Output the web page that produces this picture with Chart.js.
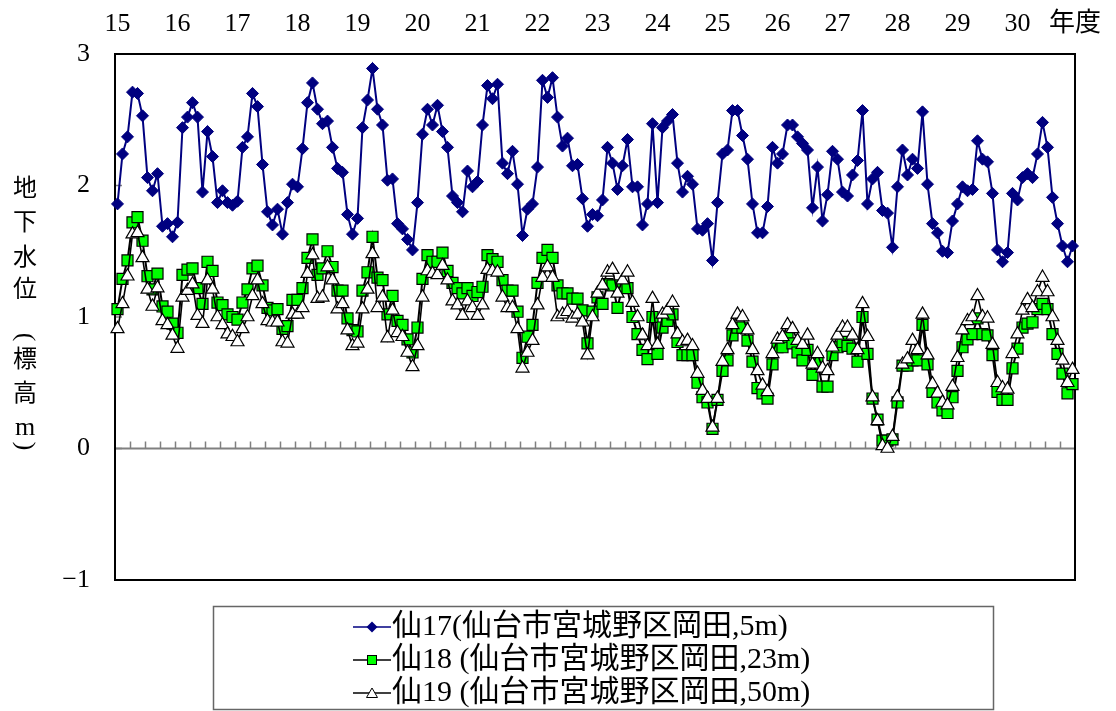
<!DOCTYPE html>
<html><head><meta charset="utf-8">
<script src="https://cdn.jsdelivr.net/npm/chart.js"></script>
<style>html,body{margin:0;padding:0;background:#fff;}#wrap{width:1116px;height:711px;}</style>
</head><body><div id="wrap"><canvas id="c" width="1116" height="711"></canvas></div>
<script>
// Fiscal years (Heisei) on the top axis, monthly data Apr H15 .. Mar H31
const yearLabels = ['15','16','17','18','19','20','21','22','23','24','25','26','27','28','29','30'];
const yearUnit = '年度';
const yTicks = [-1, 0, 1, 2, 3];
const seriesNames = ['仙17(仙台市宮城野区岡田,5m)', '仙18 (仙台市宮城野区岡田,23m)', '仙19 (仙台市宮城野区岡田,50m)'];
const yTitle = ['地','下','水','位','(','標','高','m',')'];

const sen17 = [
 1.86,2.24,2.37,2.71,2.70,2.53,2.06,1.96,2.09,1.69,1.71,1.61,
 1.72,2.44,2.52,2.63,2.52,1.95,2.41,2.22,1.87,1.96,1.87,1.85,
 1.88,2.29,2.37,2.70,2.60,2.16,1.80,1.70,1.82,1.63,1.87,2.01,
 1.99,2.28,2.63,2.78,2.58,2.47,2.49,2.29,2.13,2.10,1.78,1.63,
 1.75,2.44,2.65,2.89,2.58,2.46,2.04,2.05,1.71,1.67,1.59,1.51,
 1.87,2.39,2.58,2.46,2.61,2.41,2.29,1.92,1.87,1.80,2.11,1.99,
 2.03,2.46,2.76,2.66,2.77,2.17,2.09,2.26,2.01,1.62,1.82,1.86,
 2.14,2.80,2.67,2.82,2.52,2.30,2.36,2.15,2.16,1.90,1.69,1.78,
 1.77,1.89,2.29,2.17,1.97,2.15,2.35,1.99,1.99,1.70,1.86,2.47,
 1.87,2.44,2.49,2.54,2.17,1.95,2.07,2.01,1.67,1.66,1.71,1.43,
 1.87,2.24,2.27,2.57,2.57,2.38,2.20,1.86,1.64,1.64,1.84,2.29,
 2.17,2.24,2.46,2.46,2.37,2.32,2.27,1.83,2.14,1.73,1.93,2.26,
 2.20,1.95,1.92,2.08,2.19,2.57,1.86,2.05,2.10,1.81,1.79,1.53,
 1.99,2.27,2.08,2.20,2.13,2.56,2.01,1.71,1.64,1.50,1.49,1.73,
 1.86,1.99,1.96,1.97,2.34,2.20,2.18,1.94,1.51,1.42,1.49,1.94,
 1.89,2.06,2.09,2.06,2.24,2.48,2.29,1.91,1.71,1.54,1.42,1.54
];
const sen18 = [
 1.06,1.29,1.43,1.72,1.76,1.58,1.31,1.21,1.33,1.08,1.04,0.95,
 0.88,1.32,1.36,1.37,1.22,1.10,1.42,1.35,1.11,1.09,1.02,1.00,
 0.98,1.11,1.21,1.37,1.39,1.24,1.07,1.05,1.06,0.91,0.93,1.13,
 1.13,1.22,1.45,1.59,1.32,1.37,1.50,1.38,1.20,1.20,0.99,0.90,
 0.89,1.20,1.34,1.61,1.30,1.28,1.02,1.16,0.97,0.94,0.83,0.73,
 0.92,1.29,1.47,1.42,1.42,1.49,1.35,1.26,1.22,1.18,1.22,1.16,
 1.19,1.23,1.47,1.44,1.42,1.28,1.20,1.20,1.04,0.69,0.85,0.94,
 1.26,1.45,1.51,1.45,1.24,1.18,1.18,1.14,1.14,1.05,0.80,1.04,
 1.15,1.10,1.25,1.24,1.07,1.23,1.22,1.00,0.87,0.75,0.68,1.00,
 0.72,0.92,0.97,1.02,0.81,0.71,0.71,0.71,0.50,0.39,0.35,0.15,
 0.37,0.59,0.67,0.86,0.92,0.92,0.82,0.66,0.46,0.42,0.38,0.64,
 0.77,0.77,0.85,0.80,0.73,0.67,0.75,0.56,0.66,0.47,0.47,0.71,
 0.77,0.81,0.78,0.76,0.66,1.00,0.72,0.38,0.22,0.06,0.06,0.07,
 0.35,0.63,0.63,0.67,0.67,0.94,0.64,0.43,0.35,0.29,0.27,0.39,
 0.59,0.77,0.83,0.87,0.99,0.87,0.86,0.71,0.43,0.37,0.37,0.61,
 0.76,0.92,0.95,0.96,1.06,1.10,1.06,0.87,0.72,0.57,0.42,0.49
];
const sen19 = [
 0.91,1.10,1.31,1.63,1.64,1.45,1.21,1.08,1.22,0.97,0.94,0.86,
 0.76,1.15,1.20,1.25,1.01,0.95,1.28,1.21,1.00,0.94,0.87,0.85,
 0.81,0.91,1.00,1.16,1.28,1.10,0.97,0.96,0.96,0.81,0.80,1.02,
 1.02,1.07,1.33,1.47,1.14,1.15,1.38,1.28,1.06,1.10,0.90,0.78,
 0.80,1.06,1.21,1.48,1.07,1.15,0.84,1.05,0.88,0.85,0.73,0.62,
 0.78,1.15,1.35,1.33,1.32,1.39,1.28,1.12,1.09,1.01,1.12,1.07,
 1.01,1.09,1.36,1.35,1.34,1.15,1.07,1.07,0.91,0.61,0.73,0.82,
 1.09,1.30,1.38,1.30,1.00,1.02,1.04,0.99,1.02,0.96,0.71,1.00,
 1.18,1.24,1.34,1.36,1.18,1.28,1.34,1.11,1.00,0.86,0.78,1.14,
 0.79,1.02,1.05,1.11,0.87,0.81,0.82,0.78,0.57,0.44,0.38,0.16,
 0.38,0.66,0.75,0.94,1.02,1.00,0.90,0.75,0.59,0.48,0.43,0.72,
 0.83,0.85,0.94,0.91,0.82,0.79,0.86,0.64,0.72,0.61,0.59,0.77,
 0.86,0.92,0.92,0.86,0.75,1.10,0.85,0.39,0.21,0.02,0.00,0.09,
 0.39,0.64,0.68,0.82,0.75,1.02,0.71,0.49,0.42,0.35,0.33,0.47,
 0.69,0.90,0.97,1.00,1.16,1.00,0.99,0.79,0.50,0.46,0.45,0.72,
 0.87,1.05,1.13,1.07,1.19,1.30,1.19,1.00,0.82,0.67,0.50,0.60
];

const FONT = "'Liberation Serif', 'Noto Sans CJK JP', serif";
const toXY = arr => arr.map((v, i) => ({x: i, y: v}));
const nMonths = sen17.length;

// legend sample: 60px wide image, visible sample (line + marker) in its right part
function legendImg(kind) {
  const c = document.createElement('canvas');
  c.width = 60; c.height = 16;
  const g = c.getContext('2d');
  const x0 = 22, cx = 41;
  g.lineWidth = 1.6;
  g.strokeStyle = kind === 'd' ? '#000080' : '#000';
  g.beginPath(); g.moveTo(x0, 8); g.lineTo(60, 8); g.stroke();
  if (kind === 'd') {
    g.fillStyle = '#000080';
    g.beginPath(); g.moveTo(cx, 2.5); g.lineTo(cx + 5.5, 8); g.lineTo(cx, 13.5); g.lineTo(cx - 5.5, 8); g.closePath(); g.fill();
  } else if (kind === 's') {
    g.fillStyle = '#00ff00'; g.fillRect(cx - 4.5, 3.5, 9, 9);
    g.lineWidth = 1; g.strokeRect(cx - 4.5, 3.5, 9, 9);
  } else {
    g.fillStyle = '#fff'; g.lineWidth = 1;
    g.beginPath(); g.moveTo(cx, 3); g.lineTo(cx + 5.5, 12.5); g.lineTo(cx - 5.5, 12.5); g.closePath(); g.fill(); g.stroke();
  }
  return c;
}
const legendImgs = [legendImg('d'), legendImg('s'), legendImg('t')];

const deco = {
  id: 'deco',
  beforeDraw(chart) {
    const ctx = chart.ctx;
    ctx.save(); ctx.fillStyle = '#fff'; ctx.fillRect(0, 0, chart.width, chart.height); ctx.restore();
  },
  afterLayout(chart) {
    const lg = chart.legend;
    if (lg) { lg.left = 342; lg.top = 609; lg.right = 1000; lg.bottom = 740; lg.width = 658; lg.height = 131; }
  },
  beforeDatasetsDraw(chart) {
    const ctx = chart.ctx, a = chart.chartArea, x = chart.scales.x, y = chart.scales.y;
    ctx.save();
    const y0 = y.getPixelForValue(0);
    ctx.strokeStyle = '#808080'; ctx.lineWidth = 2;
    ctx.beginPath(); ctx.moveTo(a.left, y0); ctx.lineTo(a.right, y0); ctx.stroke();
    ctx.lineWidth = 1.5; ctx.beginPath();
    for (let m = 2.5; m < nMonths - 1; m += 3) {
      const px = Math.round(x.getPixelForValue(m)) + 0.5;
      ctx.moveTo(px, y0); ctx.lineTo(px, y0 - 7);
    }
    yTicks.forEach(v => { const py = y.getPixelForValue(v); ctx.moveTo(a.left, py); ctx.lineTo(a.left + 7, py); });
    ctx.stroke();
    ctx.strokeStyle = '#000'; ctx.lineWidth = 2;
    ctx.strokeRect(a.left, a.top, a.right - a.left, a.bottom - a.top);
    ctx.restore();
  },
  afterDraw(chart) {
    const ctx = chart.ctx;
    ctx.save();
    // legend frame
    ctx.strokeStyle = '#666'; ctx.lineWidth = 1.5;
    ctx.strokeRect(213.5, 606.5, 780, 103);
    // vertical y-axis title
    const ys = [187, 221, 256, 288, 337, 358, 392, 430, 446];
    ctx.fillStyle = '#000'; ctx.textAlign = 'center'; ctx.textBaseline = 'middle';
    yTitle.forEach((ch, i) => {
      if (ch === '(' || ch === ')') {
        ctx.save(); ctx.translate(25, ys[i]); ctx.rotate(Math.PI / 2);
        ctx.font = "26px 'Liberation Serif'"; ctx.fillText(ch, 0, 0); ctx.restore();
      } else if (ch === 'm') {
        ctx.font = "26px 'Liberation Serif'"; ctx.fillText(ch, 25, ys[i] - 2);
      } else {
        ctx.font = "24px 'Noto Sans CJK JP'"; ctx.fillText(ch, 25, ys[i]);
      }
    });
    ctx.restore();
  }
};

new Chart(document.getElementById('c'), {
  type: 'line',
  data: {
    datasets: [
      { label: seriesNames[0], data: toXY(sen17), borderColor: '#000080', backgroundColor: '#000080',
        borderWidth: 2, pointStyle: 'rectRot', pointRadius: 6, pointBorderWidth: 1,
        pointBorderColor: '#000080', pointBackgroundColor: '#000080', tension: 0, order: 3, clip: false },
      { label: seriesNames[1], data: toXY(sen18), borderColor: '#000', backgroundColor: '#00ff00',
        borderWidth: 2, pointStyle: 'rect', pointRadius: 7.8, pointBorderWidth: 1.2,
        pointBorderColor: '#000', pointBackgroundColor: '#00ff00', tension: 0, order: 2, clip: false },
      { label: seriesNames[2], data: toXY(sen19), borderColor: '#000', backgroundColor: '#fff',
        borderWidth: 1.6, pointStyle: 'triangle', pointRadius: 7.5, pointBorderWidth: 1.2,
        pointBorderColor: '#000', pointBackgroundColor: '#fff', tension: 0, order: 1, clip: false }
    ]
  },
  options: {
    responsive: false, animation: false, devicePixelRatio: 1,
    layout: { padding: { left: 0, top: 0, right: 41, bottom: 131 } },
    scales: {
      x: { type: 'linear', min: -0.5, max: nMonths - 0.5, display: false },
      xTop: {
        type: 'linear', position: 'top', axis: 'x', min: -0.5, max: nMonths - 0.5,
        afterBuildTicks: s => { s.ticks = yearLabels.map((_, k) => ({value: k * 12})).concat([{value: nMonths - 0.5}]); },
        ticks: { autoSkip: false, maxRotation: 0, padding: 14, color: '#000', font: { family: FONT, size: 26 },
          callback: (v, idx) => idx < yearLabels.length ? yearLabels[idx] : yearUnit },
        grid: { display: false, drawTicks: false }, border: { display: false },
        afterFit: s => { s.height = 54; }
      },
      y: {
        min: -1, max: 3,
        afterBuildTicks: s => { s.ticks = yTicks.map(v => ({value: v})); },
        ticks: { padding: 25, color: '#000', font: { family: FONT, size: 26 },
          callback: v => v < 0 ? '\u2212' + Math.abs(v) : String(v) },
        grid: { display: false, drawTicks: false }, border: { display: false },
        afterFit: s => { s.width = 115; }
      }
    },
    plugins: {
      tooltip: { enabled: false },
      legend: {
        position: 'chartArea', fullSize: false, align: 'start',
        labels: {
          usePointStyle: true, pointStyleWidth: 32, padding: 3, color: '#000',
          font: { family: FONT, size: 30 },
          generateLabels: chart => chart.data.datasets.map((ds, i) => ({
            text: ds.label, pointStyle: legendImgs[i], fillStyle: '#fff', strokeStyle: '#000',
            lineWidth: 0, hidden: false, datasetIndex: i, fontColor: '#000'
          }))
        }
      }
    }
  },
  plugins: [deco]
});
</script>
</body></html>
